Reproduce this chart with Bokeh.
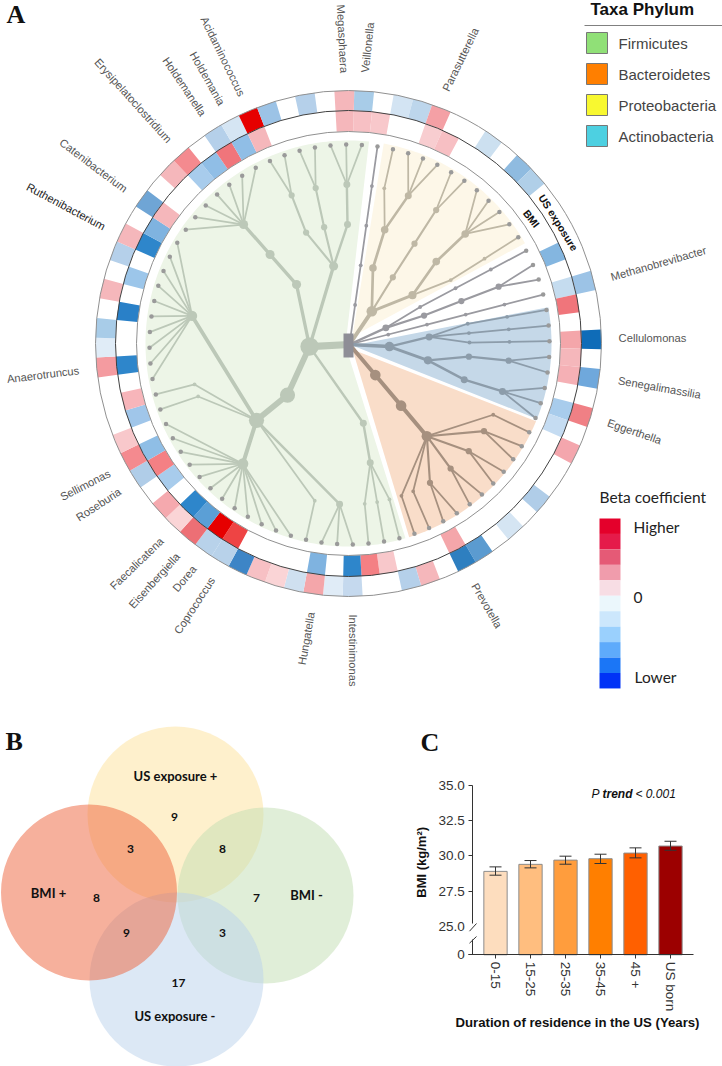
import math
from bokeh.plotting import figure
from bokeh.layouts import column, row
from bokeh.models import FixedTicker
from bokeh.core.properties import value
from bokeh.embed import file_html
from bokeh.resources import INLINE

# ---------------- data ----------------
us_exposure_cells = {0:"#A8CCE8",2:"#D3E4F3",3:"#BDD6EC",4:"#F4A0A5",7:"#CCE0F0",9:"#8FBBE0",10:"#B0CFE8",16:"#9CC3E6",
    19:"#0F6CB8",21:"#6FA8DC",23:"#F08085",25:"#F4A6AD",28:"#B0CDE8",30:"#D5E5F3",32:"#5B9BD0",33:"#2E7FC0",35:"#F5B7BB",
    36:"#B5D0EA",39:"#C5D9EE",40:"#E0ECF7",41:"#F4A6AA",42:"#CFE0F0",43:"#FAD4D6",44:"#F7C0C4",45:"#3D85C6",46:"#B8D2EA",
    47:"#B8D2EA",48:"#ED6F75",49:"#FAD4D6",50:"#F5A9AE",52:"#B0CDE8",53:"#F48A8F",54:"#F8C8CB",58:"#F49BA0",59:"#E0ECF7",
    60:"#A8CCE8",62:"#F5B7BB",64:"#B5D0EA",65:"#F5B7BB",67:"#6FA5D5",69:"#F5B7BB",70:"#F48A8F",72:"#B5D0EA",73:"#D5E5F3",
    74:"#E60000",75:"#9CC3E6",77:"#B5D0EA",79:"#F5B7BB"}
bmi_cells = {0:"#F7C0C4",1:"#F8C8CB",4:"#F8CDD0",5:"#F7BFC3",14:"#84B6E0",16:"#C5DCEF",17:"#F0757B",19:"#F4A6AA",20:"#F5B7BB",
    21:"#F5B0B5",23:"#A8CCEC",24:"#C5DCF2",33:"#F4A6AA",37:"#F8C8CB",38:"#F48084",39:"#2E86CB",41:"#7FB3E0",46:"#EE4444",
    47:"#E60000",48:"#5B9FD6",49:"#2E86CB",51:"#A8CCEC",52:"#F48084",53:"#8FBEE6",55:"#A0C6EA",56:"#F7B5BA",58:"#2E86CB",
    61:"#2980C8",63:"#9CC6EA",65:"#2E86CB",66:"#7FB3E0",67:"#F5B7BB",70:"#A8CCEC",71:"#90BEE6",72:"#F0757B",73:"#90BEE6",
    74:"#F5B7BB",79:"#F5B7BB"}

firmicutes_tree = [
    [[36,37,38]],
    [[[39,40,41],42,[43,44,45,46,47,48,49,50,51,52,53,54],55,56,[57,58,59,60,61,62,63,64,65,66]]],
    [[[67,68,69,70,71,72,73]]],
    [[[74,75]],[[76,77]],[[78,79,80]]],
]
proteobacteria_tree = [[[2,[3,4,5]]],[[[6,7]]],[[[8,9,10,11]],12]]
other_tree_a = 1
other_tree_b = [13,[[[14,15]]]]
other_tree_c = 16
actinobacteria_tree = [[17,18,19],[[[20,21]],[[22,23,24]]]]
bacteroidetes_tree = [[[25,[26,27],[28,29],[30,31],[32,33],34,35]]]

taxa_labels = ["Megasphaera","Acidaminococcus","Holdemania","Holdemanella","Erysipelatoclostridium","Catenibacterium",
    "Ruthenibacterium","Anaerotruncus","Sellimonas","Roseburia","Faecalicatena","Eisenbergiella","Dorea","Coprococcus",
    "Hungatella","Intestinimonas","Prevotella","Eggerthella","Senegalimassilia","Cellulomonas","Methanobrevibacter",
    "Parasutterella","Veillonella"]
phyla = ["Firmicutes","Bacteroidetes","Proteobacteria","Actinobacteria"]
phyla_colors = ["#90E077","#FF7F00","#F8F830","#4DD0E1"]
beta_colors = ["#E4002B","#E51B4A","#E55A76","#F09CAC","#F7DDE4","#EBF7FC","#CCE7FC","#9AD0FD","#5EABFB","#1B76F6","#0133F6"]

venn_sets = ["US exposure +","BMI -","US exposure  -","BMI +"]
venn_colors = ["#FDE199","#C1DDB1","#B9D1EB","#ED6139"]
venn_counts = ["9","3","8","8","7","9","3","17"]

durations = ["0-15","15-25","25-35","35-45","45 +","US born"]
bmi_mean = [28.9,29.4,29.7,29.8,30.2,30.7]
bmi_low = [28.63,29.15,29.41,29.46,29.86,30.40]
bmi_high = [29.22,29.67,29.98,30.12,30.57,31.04]
bar_colors = ["#FDDDBE","#FFBE7F","#FF9D3D","#FF7F00","#FF6000","#9C0000"]

# ---------------- layout constants (target pixels) ----------------
W, H = 722, 1066
TOP_H = 722
LEFT_W = 410
def Y(y): return H - y
CX, CY = 348, 343
TX, TY = 349, 344
SANS = value("Liberation Sans")
SERIF = value("Liberation Serif")
LEVELS = [0, 40, 80, 120, 160, 200]

def base_fig(w, h, xr, yr):
    f = figure(width=w, height=h, x_range=xr, y_range=yr, output_backend="svg", toolbar_location=None,
               min_border=0, outline_line_color=None, background_fill_color="white")
    f.axis.visible = False
    f.grid.visible = False
    return f

def txt(f, x, y, s, size, color="#333333", font=SANS, angle=0, align="center", style="normal"):
    f.text(x=[x], y=[y], text=[s], angle=[angle], angle_units="deg", text_align=align, text_baseline="middle",
           text_font=font, text_font_size=size, text_color=color, text_font_style=style)

# ================= Panel A =================
A = base_fig(W, TOP_H, (0, W), (H - TOP_H, H))

def theta_of(k): return 3.55 + 4.5 * k
def polar(r, th, cx=CX, cy=CY):
    a = math.radians(th)
    return cx + r * math.sin(a), Y(cy - r * math.cos(a))

def wedge(apex, t0, t1, color):
    xs, ys = [apex[0]], [Y(apex[1])]
    n = max(4, int(abs(t1 - t0)))
    for i in range(n + 1):
        x, y = polar(203, t0 + (t1 - t0) * i / n)
        xs.append(x); ys.append(y)
    A.patch(xs, ys, fill_color=color, line_color=None)

wedge((345, 345), 163.7, 365.8, "#EDF5E7")
wedge((352, 336), 10, 60.4, "#FDF7E8")
wedge((352, 345), 79.7, 111.8, "#C5D8E8")
wedge((352, 349), 112.5, 162.6, "#F9DDC9")

def ring(cells, r0, r1):
    ks = list(cells)
    A.annular_wedge(x=[CX]*len(ks), y=[Y(CY)]*len(ks), inner_radius=r0, outer_radius=r1,
                    start_angle=[math.radians(90 - theta_of(k) - 2.25) for k in ks],
                    end_angle=[math.radians(90 - theta_of(k) + 2.25) for k in ks],
                    fill_color=[cells[k] for k in ks], line_color=None)
ring(us_exposure_cells, 233, 253)
ring(bmi_cells, 212, 233)
for r, c, lw in [(212, "#909090", 1), (233, "#404040", 1), (253, "#909090", 1)]:
    A.circle(x=[CX], y=[Y(CY)], radius=r, fill_color=None, line_color=c, line_width=lw)

def tree_pos(r, th): return polar(r, th, TX, TY)

def build(item, depth, segs, nodes):
    """returns (mean leaf index, number of leaves)"""
    if isinstance(item, int):
        k = item
        for d in range(depth, 5):
            segs.append((d, theta_of(k), d + 1, theta_of(k), 1))
            nodes.append((d, theta_of(k), 1))
        nodes.append((5, theta_of(k), 0))
        return k, 1
    res = [build(c, depth + 1, segs, nodes) for c in item]
    k = sum(a for a, _ in res) / len(res)
    n = sum(b for _, b in res)
    for (ck, cn) in res:
        segs.append((depth, theta_of(k), depth + 1, theta_of(ck), cn))
    nodes.append((depth, theta_of(k), n))
    return k, n

def draw_tree(tree, color):
    segs, nodes = [], []
    k, n = build(tree, 1, segs, nodes)
    segs.append((0, theta_of(k), 1, theta_of(k), n))
    x0, y0, x1, y1, lw = [], [], [], [], []
    for d0, t0, d1, t1, cn in segs:
        a = tree_pos(LEVELS[d0], t0); b = tree_pos(LEVELS[d1], t1)
        x0.append(a[0]); y0.append(a[1]); x1.append(b[0]); y1.append(b[1])
        lw.append(0.8 + 0.95 * math.sqrt(cn))
    A.segment(x0, y0, x1, y1, line_color=color, line_width=lw, line_cap="round")
    nx, ny, ns, nc = [], [], [], []
    for d, t, cn in nodes:
        p_ = tree_pos(LEVELS[d], t)
        nx.append(p_[0]); ny.append(p_[1])
        ns.append(4.5 if cn == 0 else 3 + 2.3 * math.sqrt(cn) if cn > 1 else 3.8)
        nc.append("#9A9A9A" if cn == 0 else color)
    A.scatter(nx, ny, size=ns, fill_color=nc, line_color=None)

draw_tree(firmicutes_tree, "#BCC8B8")
draw_tree(proteobacteria_tree, "#BFB8A5")
draw_tree(other_tree_a, "#9A9AA0")
draw_tree(other_tree_b, "#9A9AA0")
draw_tree(other_tree_c, "#9A9AA0")
draw_tree(actinobacteria_tree, "#8C9CAA")
draw_tree(bacteroidetes_tree, "#A6907F")
A.quad(left=[343], right=[353], bottom=[Y(357)], top=[Y(333)], fill_color="#8E8E96", line_color=None)

label_place = [(342,38.3,-87),(222.5,55.8,-64),(207,78,-60.6),(184,86,-56),(132.7,100,-48),(93,165,-37),(65.5,206,-28),
    (42.5,374.2,7),(84.7,484.5,27),(98,504,33),(136.2,563,44),(153.8,580,48),(184,578,50),(194,605,57),(305.8,638,80),
    (352.7,650,-90),(486.5,605,-60),(634,431,-19),(659,387,-10),(652,337,0),(658,263,16),(460,59,64),(367,47,84)]
for name, (x, y, ang) in zip(taxa_labels, label_place):
    col = "#222222" if name == "Ruthenibacterium" else "#555555"
    txt(A, x, Y(y), name, "11.2px", col, angle=ang)

txt(A, 558, Y(222), "US exposure", "10.5px", "#111111", angle=-58, style="bold")
txt(A, 531, Y(218), "BMI", "10.5px", "#111111", angle=-52, style="bold")
txt(A, 6, Y(14), "A", "26px", "#111111", font=SERIF, align="left", style="bold")

# legend
txt(A, 590, Y(9), "Taxa Phylum", "17px", "#111111", align="left", style="bold")
A.segment([584], [Y(25)], [722], [Y(25)], line_color="#808080", line_width=1)
for i, (name, c) in enumerate(zip(phyla, phyla_colors)):
    top = 32 + 31 * i
    A.quad(left=[586], right=[607], top=[Y(top)], bottom=[Y(top + 21)], fill_color=c, line_color="#777777")
    txt(A, 618, Y(top + 10.5), name, "15px", "#444444", align="left")

# colour key
for i, c in enumerate(beta_colors):
    A.quad(left=[599], right=[620], top=[Y(518 + 15.45 * i)], bottom=[Y(518 + 15.45 * (i + 1))], fill_color=c, line_color=None)
LATO = value("Lato")
txt(A, 599, Y(496), "Beta coefficient", "15.5px", "#222222", font=LATO, align="left")
txt(A, 633, Y(526), "Higher", "15.5px", "#222222", font=LATO, align="left")
txt(A, 633, Y(597), "0", "15.5px", "#222222", font=LATO, align="left")
txt(A, 634, Y(676), "Lower", "15.5px", "#222222", font=LATO, align="left")

# ================= Panel B =================
B = base_fig(LEFT_W, H - TOP_H, (0, LEFT_W), (0, H - TOP_H))
venn_geom = [(175, 814, 88), (265, 895, 88), (176, 979, 87), (88.5, 892, 88)]
for (x, y, r), c in zip(venn_geom, venn_colors):
    B.circle(x=[x], y=[Y(y)], radius=r, fill_color=c, fill_alpha=0.5, line_color=None)
venn_label_pos = [(175, 775), (306, 894), (176, 1015), (48, 892)]
for s, (x, y) in zip(venn_sets, venn_label_pos):
    txt(B, x, Y(y), s, "13px", "#111111", font=LATO, style="bold")
venn_count_pos = [(174, 816), (130, 848), (222, 848), (96, 897), (256, 897), (126, 932), (222, 932), (178, 982)]
for s, (x, y) in zip(venn_counts, venn_count_pos):
    txt(B, x, Y(y), s, "12px", "#111111", font=LATO, style="bold")
txt(B, 5, Y(741), "B", "26px", "#111111", font=SERIF, align="left", style="bold")

# ================= Panel C =================
PX_PER_X = 35.0
PX_PER_Y = 14.08
def cx(px): return (px - 495) / PX_PER_X
def cy(py): return 35 - (py - 785) / PX_PER_Y
ZERO = cy(954.3)
C = figure(width=W - LEFT_W, height=H - TOP_H, x_range=(cx(LEFT_W), cx(W)), y_range=(cy(H), cy(TOP_H)),
           output_backend="svg", toolbar_location=None, min_border=0, outline_line_color=None)
C.grid.visible = False
xs = list(range(len(durations)))
C.vbar(x=xs, width=23.3 / PX_PER_X, bottom=ZERO, top=bmi_mean, fill_color=bar_colors, line_color="#8C8C8C", line_width=1)
CAP = 6 / PX_PER_X
C.segment(xs, bmi_low, xs, bmi_high, line_color="#333333", line_width=1)
C.segment([x - CAP for x in xs], bmi_low, [x + CAP for x in xs], bmi_low, line_color="#333333", line_width=1)
C.segment([x - CAP for x in xs], bmi_high, [x + CAP for x in xs], bmi_high, line_color="#333333", line_width=1)

C.xaxis.fixed_location = ZERO
C.xaxis.bounds = (cx(468), cx(693))
C.xaxis.ticker = FixedTicker(ticks=xs)
C.xaxis.major_label_overrides = {i: s for i, s in enumerate(durations)}
C.xaxis.major_label_orientation = "vertical"
C.xaxis.major_label_text_font = "Liberation Sans"
C.xaxis.major_label_text_font_size = "13.5px"
C.xaxis.major_label_text_color = "#333333"
C.xaxis.major_label_standoff = 3
C.xaxis.major_tick_in = 0
C.xaxis.major_tick_out = 4
C.xaxis.minor_tick_line_color = None
C.xaxis.axis_line_color = "#333333"
C.xaxis.major_tick_line_color = "#333333"

y_ticks = [ZERO, 25, 27.5, 30, 32.5, 35]
C.yaxis.fixed_location = cx(472.3)
C.yaxis.bounds = (ZERO, 35)
C.yaxis.ticker = FixedTicker(ticks=y_ticks)
C.yaxis.major_label_overrides = {ZERO: "0", 25: "25.0", 27.5: "27.5", 30: "30.0", 32.5: "32.5", 35: "35.0"}
C.yaxis.major_label_text_font = "Liberation Sans"
C.yaxis.major_label_text_font_size = "13.5px"
C.yaxis.major_label_text_color = "#333333"
C.yaxis.major_label_standoff = 4
C.yaxis.major_tick_in = 0
C.yaxis.major_tick_out = 4
C.yaxis.minor_tick_line_color = None
C.yaxis.axis_line_color = "#333333"
C.yaxis.major_tick_line_color = "#333333"

# axis break
C.quad(left=[cx(467)], right=[cx(477)], bottom=[cy(939)], top=[cy(923)], fill_color="white", line_color=None, level="overlay")
C.segment([cx(469), cx(469)], [cy(930.7), cy(942.7)], [cx(476), cx(476)], [cy(923), cy(936)],
          line_color="#333333", line_width=1, level="overlay")

def ctxt(px, py, s, size, color="#111111", angle=0, align="center", style="normal", font=SANS):
    txt(C, cx(px), cy(py), s, size, color, font=font, angle=angle, align=align, style=style)
ctxt(421, 860, "BMI  (kg/m²)", "13px", angle=90, style="bold")
ctxt(577, 1022, "Duration of residence in the US (Years)", "13.2px", style="bold")
ctxt(591, 793, "P", "12px", align="left", style="italic")
ctxt(602, 793, "trend", "12px", align="left", style="bold italic")
ctxt(635, 793, "< 0.001", "12px", align="left", style="italic")
ctxt(420, 742, "C", "26px", align="left", style="bold", font=SERIF)

page = column(A, row(B, C, spacing=0), spacing=0)
open("out.html", "w").write(file_html(page, INLINE))
